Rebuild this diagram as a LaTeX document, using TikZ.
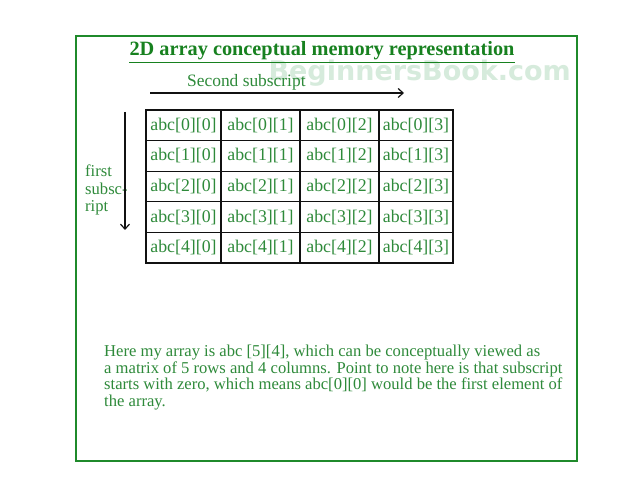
\documentclass[tikz,border=0pt]{standalone}
\usepackage{fontspec}
\setmainfont{Liberation Serif}
\newfontfamily\marksans{DejaVu Sans}
\usetikzlibrary{arrows.meta,positioning}
\definecolor{arrgreen}{HTML}{2E8A3A}
\definecolor{arrframe}{HTML}{1F8A2B}
\definecolor{arrtitle}{HTML}{17811F}
\definecolor{arrmark}{HTML}{D6EBDC}
\definecolor{arrink}{HTML}{111111}
\tikzset{
  arrtext/.style={font=\fontsize{16.6}{16.5}\selectfont, text=arrgreen},
  celltext/.style={font=\fontsize{17.8}{18}\selectfont, text=arrgreen},
  cellbox/.style={draw=arrink, line width=1.3pt, inner sep=0pt,
    minimum height=30.6pt, celltext},
  subarrow/.style={-{Straight Barb[length=5pt,width=9pt]}, draw=arrink,
    line width=1.2pt}
}

\begin{document}
\begin{tikzpicture}[x=1pt,y=-1pt]
  \useasboundingbox (0,0) rectangle (638,478);
  \fill[white] (0,0) rectangle (638,478);
  % outer frame
  \draw[arrframe, line width=1.8pt] (76,36) rectangle (577,461);

  % watermark
  \node[font=\marksans\bfseries\fontsize{27}{27}\selectfont, text=arrmark,
    anchor=base east, inner sep=0pt] (mark) at (571,81) {BeginnersBook.com};

  % title
  \node[font=\bfseries\fontsize{20.3}{21}\selectfont, text=arrtitle,
    inner sep=0pt] (title) at (322,51) {2D array conceptual memory representation};
  \draw[arrtitle, line width=1pt] ([yshift=-2pt]title.south west)
    -- ([yshift=-2pt]title.south east);

  % second subscript
  \node[arrtext, font=\fontsize{17.4}{18}\selectfont, anchor=west,
    inner sep=0pt] (second) at (187,82) {Second subscript};
  \coordinate (sec-a) at (150,93);
  \coordinate (sec-b) at (404,93);
  \draw[subarrow] (sec-a) -- (sec-b);

  % first subscript
  \node[arrtext, font=\fontsize{16.6}{17.5}\selectfont, align=left,
    anchor=west, inner sep=0pt] (first) at (85,190)
    {first\\subsc-\\ript};
  \coordinate (fst-a) at (125,112);
  \coordinate (fst-b) at (125,230);
  \draw[subarrow] (fst-a) -- (fst-b);

  % array cells
  \foreach \r/\ym in {0/125.3, 1/155.9, 2/186.5, 3/217.1, 4/247.7}{
    \foreach \c/\xm/\w in {0/183.5/75, 1/260.5/79, 2/339.5/79, 3/416/74}{
      \node[cellbox, minimum width=\w pt] (cell\r\c) at (\xm,\ym)
        {abc[\r][\c]};
    }
  }

  % note
  \node[arrtext, align=left, anchor=north west, inner sep=0pt] (note)
    at (104,345)
    {Here my array is abc [5][4], which can be conceptually viewed as\\
     a matrix of 5 rows and 4 columns. Point to note here is that subscript\\
     starts with zero, which means abc[0][0] would be the first element of\\
     the array.};
\end{tikzpicture}
\end{document}
